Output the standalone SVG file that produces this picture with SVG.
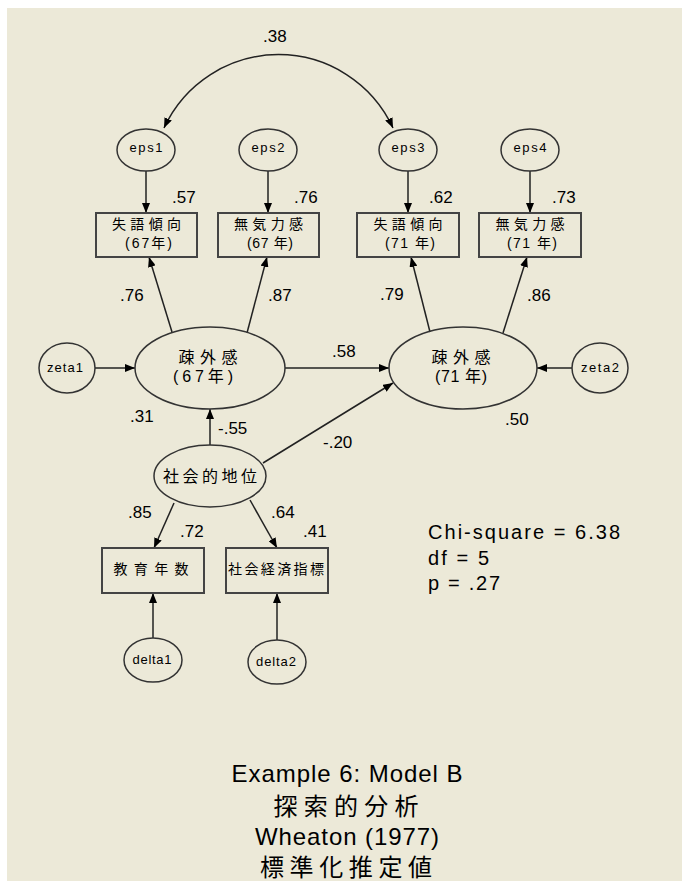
<svg xmlns="http://www.w3.org/2000/svg" width="682" height="881" viewBox="0 0 682 881">
<defs>
<marker id="ah" viewBox="0 0 10 8" refX="10" refY="4" markerWidth="10" markerHeight="8" markerUnits="userSpaceOnUse" orient="auto-start-reverse">
<path d="M0,0 L10,4 L0,8 z" fill="#000"/>
</marker>
<style>
.bg{fill:#ECE9D8}
.nd{fill:none;stroke:#333;stroke-width:1.5}
.bx{fill:none;stroke:#444;stroke-width:2}
.ln{fill:none;stroke:#222;stroke-width:1.5;marker-end:url(#ah)}
text{font-family:"Liberation Sans","Noto Sans CJK JP",sans-serif;fill:#000}
.sm{font-size:13px;text-anchor:middle}
.jp{font-size:14px;text-anchor:middle}
.jl{font-size:16px;text-anchor:middle}
.num{font-size:17px}
.fit{font-size:20px}
.cap{font-size:24px;text-anchor:middle}
</style>
</defs>
<rect x="0" y="0" width="682" height="881" fill="#fff"/>
<rect class="bg" x="7" y="8" width="675" height="873"/>

<g id="connectors">
<path class="ln" d="M164,128 A126,126 0 0 1 393,128" style="marker-start:url(#ah)"/>
<line class="ln" x1="146" y1="171" x2="146" y2="213"/>
<line class="ln" x1="268" y1="171" x2="268" y2="213"/>
<line class="ln" x1="408" y1="171" x2="408" y2="213"/>
<line class="ln" x1="530" y1="171" x2="530" y2="213"/>
<line class="ln" x1="172" y1="332" x2="149" y2="257"/>
<line class="ln" x1="247" y1="333" x2="267" y2="257"/>
<line class="ln" x1="430" y1="332" x2="411" y2="257"/>
<line class="ln" x1="503" y1="333" x2="527" y2="257"/>
<line class="ln" x1="95" y1="368" x2="135" y2="368"/>
<line class="ln" x1="572" y1="368" x2="537" y2="368"/>
<line class="ln" x1="285" y1="368" x2="389" y2="368"/>
<line class="ln" x1="210" y1="445" x2="210" y2="409"/>
<line class="ln" x1="263" y1="463" x2="393" y2="383"/>
<line class="ln" x1="174" y1="503" x2="154" y2="548"/>
<line class="ln" x1="250" y1="500" x2="277" y2="548"/>
<line class="ln" x1="153" y1="638" x2="153" y2="593"/>
<line class="ln" x1="277" y1="640" x2="277" y2="593"/>
</g>

<g id="eps1"><ellipse class="nd" cx="146" cy="150" rx="29" ry="21"/><text class="sm" x="146" y="152" textLength="33" lengthAdjust="spacing">eps1</text></g>
<g id="eps2"><ellipse class="nd" cx="268" cy="150" rx="29" ry="21"/><text class="sm" x="268" y="152" textLength="33" lengthAdjust="spacing">eps2</text></g>
<g id="eps3"><ellipse class="nd" cx="408" cy="150" rx="29" ry="21"/><text class="sm" x="408" y="152" textLength="33" lengthAdjust="spacing">eps3</text></g>
<g id="eps4"><ellipse class="nd" cx="530" cy="150" rx="29" ry="21"/><text class="sm" x="530" y="152" textLength="33" lengthAdjust="spacing">eps4</text></g>

<g id="box1"><rect class="bx" x="96" y="213" width="101" height="44"/><text class="jp" x="146.5" y="229" textLength="69" lengthAdjust="spacing">失語傾向</text><text class="jp" x="148.5" y="248" textLength="47" lengthAdjust="spacing">(67年)</text></g>
<g id="box2"><rect class="bx" x="218" y="213" width="101" height="44"/><text class="jp" x="268.5" y="229" textLength="69" lengthAdjust="spacing">無気力感</text><text class="jp" x="270" y="248" textLength="46" lengthAdjust="spacing">(67 年)</text></g>
<g id="box3"><rect class="bx" x="357" y="213" width="102" height="44"/><text class="jp" x="408" y="229" textLength="69" lengthAdjust="spacing">失語傾向</text><text class="jp" x="410" y="248" textLength="50" lengthAdjust="spacing">(71 年)</text></g>
<g id="box4"><rect class="bx" x="479" y="213" width="102" height="44"/><text class="jp" x="530" y="229" textLength="69" lengthAdjust="spacing">無気力感</text><text class="jp" x="532" y="248" textLength="50" lengthAdjust="spacing">(71 年)</text></g>

<g id="zeta1"><ellipse class="nd" cx="67" cy="368" rx="28" ry="25"/><text class="sm" x="65" y="372" textLength="36" lengthAdjust="spacing">zeta1</text></g>
<g id="zeta2"><ellipse class="nd" cx="600" cy="368" rx="28" ry="25"/><text class="sm" x="600" y="372" textLength="38" lengthAdjust="spacing">zeta2</text></g>

<g id="alien67"><ellipse class="nd" cx="210" cy="368" rx="75" ry="41"/><text class="jl" x="208" y="363" textLength="59" lengthAdjust="spacing">疎外感</text><text class="jl" x="203" y="382" textLength="60" lengthAdjust="spacing">(67年)</text></g>
<g id="alien71"><ellipse class="nd" cx="463" cy="368" rx="74" ry="41"/><text class="jl" x="461" y="363" textLength="59" lengthAdjust="spacing">疎外感</text><text class="jl" x="461" y="382" textLength="52" lengthAdjust="spacing">(71 年)</text></g>

<g id="ses"><ellipse class="nd" cx="210" cy="476" rx="56" ry="31"/><text class="jl" x="210" y="482" textLength="94" lengthAdjust="spacing">社会的地位</text></g>

<g id="box5"><rect class="bx" x="102" y="548" width="102" height="45"/><text class="jp" x="151" y="574" textLength="75" lengthAdjust="spacing">教育年数</text></g>
<g id="box6"><rect class="bx" x="226" y="548" width="102" height="45"/><text class="jp" x="276" y="574" textLength="96" lengthAdjust="spacing">社会経済指標</text></g>

<g id="delta1"><ellipse class="nd" cx="153" cy="660" rx="29" ry="22"/><text class="sm" x="152" y="664" textLength="39" lengthAdjust="spacing">delta1</text></g>
<g id="delta2"><ellipse class="nd" cx="277" cy="662" rx="29" ry="22"/><text class="sm" x="276" y="666" textLength="40" lengthAdjust="spacing">delta2</text></g>

<g id="labels">
<text class="num" x="263" y="42">.38</text>
<text class="num" x="172" y="203">.57</text>
<text class="num" x="294" y="203">.76</text>
<text class="num" x="429" y="203">.62</text>
<text class="num" x="552" y="203">.73</text>
<text class="num" x="120" y="301">.76</text>
<text class="num" x="268" y="301">.87</text>
<text class="num" x="380" y="300">.79</text>
<text class="num" x="527" y="301">.86</text>
<text class="num" x="332" y="357">.58</text>
<text class="num" x="130" y="422">.31</text>
<text class="num" x="505" y="425">.50</text>
<text class="num" x="218" y="434">-.55</text>
<text class="num" x="323" y="448">-.20</text>
<text class="num" x="128" y="518">.85</text>
<text class="num" x="180" y="537">.72</text>
<text class="num" x="271" y="518">.64</text>
<text class="num" x="303" y="537">.41</text>
</g>

<g id="fit">
<text class="fit" x="428" y="539" textLength="192" lengthAdjust="spacing">Chi-square = 6.38</text>
<text class="fit" x="428" y="565" textLength="61" lengthAdjust="spacing">df = 5</text>
<text class="fit" x="428" y="590" textLength="72" lengthAdjust="spacing">p = .27</text>
</g>

<g id="caption">
<text class="cap" x="347" y="782" textLength="231" lengthAdjust="spacing">Example 6: Model B</text>
<text class="cap" x="346" y="815" textLength="145" lengthAdjust="spacing">探索的分析</text>
<text class="cap" x="347" y="845" textLength="184" lengthAdjust="spacing">Wheaton (1977)</text>
<text class="cap" x="346" y="876" textLength="172" lengthAdjust="spacing">標準化推定値</text>
</g>
</svg>
